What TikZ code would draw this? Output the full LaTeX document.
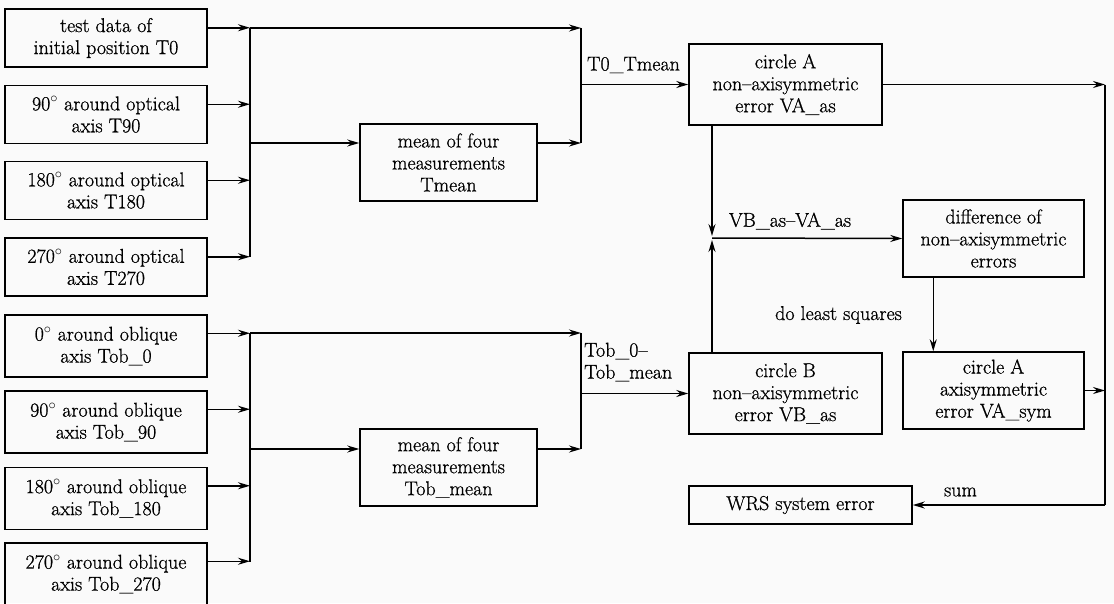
\documentclass[tikz,border=0pt]{standalone}
\usepackage{fontspec}
\setmainfont{Latin Modern Roman}[FakeBold=0.8]
\usetikzlibrary{arrows.meta,calc}

\tikzset{
  box/.style={draw, line width=1.5pt, align=center, inner sep=0pt,
    font=\fontsize{20}{22}\selectfont},
  inbox/.style={box, minimum width=202pt, minimum height=58pt},
  obbox/.style={box, minimum width=202pt, minimum height=62pt},
  meanbox/.style={box, minimum width=177pt, minimum height=77pt},
  errbox/.style={box, minimum width=193pt, minimum height=81pt},
  resbox/.style={box, minimum width=181pt, minimum height=77pt},
  arr/.style={-{Stealth[length=12pt,width=7pt,inset=4pt]}, line width=1.5pt},
  wire/.style={line width=1.5pt},
  lbl/.style={font=\fontsize{20}{22}\selectfont, inner sep=0pt}
}

\begin{document}
\begin{tikzpicture}[x=1pt,y=-1pt]

% page
\fill[black!2] (0,0) rectangle (1114,603);
\useasboundingbox (0,0) rectangle (1114,603);

% inputs, optical axis
\node[inbox] (t0)   at (106,38)    {test data of\\initial position T0};
\node[inbox] (t90)  at (106,114.5) {90$^\circ$ around optical\\axis T90};
\node[inbox] (t180) at (106,190.5) {180$^\circ$ around optical\\axis T180};
\node[inbox] (t270) at (106,267)   {270$^\circ$ around optical\\axis T270};

% inputs, oblique axis
\node[obbox] (tob0)   at (106,346)   {0$^\circ$ around oblique\\axis Tob\_0};
\node[obbox] (tob90)  at (106,422)   {90$^\circ$ around oblique\\axis Tob\_90};
\node[obbox] (tob180) at (106,498.5) {180$^\circ$ around oblique\\axis Tob\_180};
\node[obbox] (tob270) at (106,574)   {270$^\circ$ around oblique\\axis Tob\_270};

% means
\node[meanbox] (tmean)   at (448.5,162.5) {mean of four\\measurements\\Tmean};
\node[meanbox] (tobmean) at (448.5,467.5) {mean of four\\measurements\\Tob\_mean};

% errors
\node[errbox] (ca)   at (785.5,84.5)  {circle A\\non--axisymmetric\\error VA\_as};
\node[errbox] (cb)   at (785.5,393.5) {circle B\\non--axisymmetric\\error VB\_as};
\node[resbox] (diff) at (993.5,238.5) {difference of\\non--axisymmetric\\errors};
\node[resbox] (sym)  at (993.5,390.5) {circle A\\axisymmetric\\error VA\_sym};
\node[box, minimum width=223pt, minimum height=38pt] (wrs) at (800.5,505) {WRS system error};

% bus points
\coordinate (busa) at (250,28);
\coordinate (rowa) at (250,143);
\coordinate (busb) at (250,333);
\coordinate (rowb) at (250,449);
\coordinate (ma) at (581,28);
\coordinate (mb) at (581,333);
\coordinate (j) at (712,238);
\coordinate (rt) at (1105,84.5);

% optical axis group
\foreach \n in {t0,t90,t180,t270}
  \draw[arr] ($(\n.north east)+(0,19.5)$) coordinate (s) -- (s -| busa);
\draw[wire] (busa) -- (busa |- t270.north east) -- ++(0,19.5);
\draw[arr] (busa) -- (ma);
\draw[arr] (rowa) -- (rowa -| tmean.west);
\draw[arr] (rowa -| tmean.east) -- (rowa -| ma);
\draw[wire] (ma) -- (rowa -| ma);
\draw[arr] (ca.west -| ma) -- (ca.west);

% oblique axis group
\foreach \n in {tob0,tob90,tob180,tob270}
  \draw[arr] ($(\n.north east)+(0,19)$) coordinate (s) -- (s -| busb);
\draw[wire] (busb) -- (busb |- tob270.north east) -- ++(0,20);
\draw[arr] (busb) -- (mb);
\draw[arr] (rowb) -- (rowb -| tobmean.west);
\draw[arr] (rowb -| tobmean.east) -- (rowb -| mb);
\draw[wire] (mb) -- (rowb -| mb);
\draw[arr] (cb.west -| mb) -- (cb.west);

% difference
\draw[arr, shorten >=2pt] (ca.south -| j) -- (j);
\draw[arr, shorten >=2pt] (cb.north -| j) -- (j);
\draw[arr] (j) -- (diff.west);
\draw[arr] ($(diff.south west)+(31,0)$) coordinate (d) -- (d |- sym.north);

% sum
\draw[arr] (ca.east) -- (ca.east -| rt);
\draw[arr] (sym.east) -- (sym.east -| rt);
\draw[wire] (rt) -- (rt |- wrs.east);
\draw[arr] (rt |- wrs.east) -- (wrs.east);

% labels
\node[lbl] (l1) at (633.5,65) {T0\_Tmean};
\node[lbl, anchor=west, align=left] (l2) at (584,362) {Tob\_0--\\Tob\_mean};
\node[lbl] (l3) at (790,221) {VB\_as--VA\_as};
\node[lbl] (l4) at (838.5,315) {do least squares};
\node[lbl] (l5) at (960.5,492) {sum};

\end{tikzpicture}
\end{document}
